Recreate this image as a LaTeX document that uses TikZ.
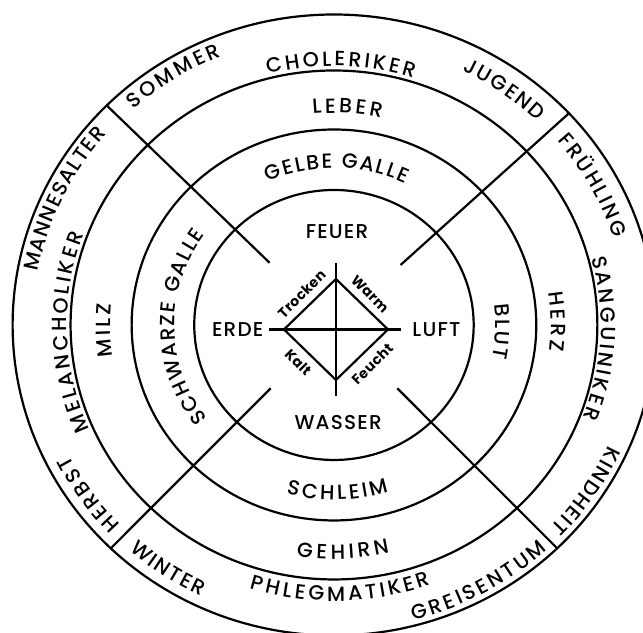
\documentclass[tikz,border=0pt]{standalone}
\usepackage{fontspec}
\setmainfont{Poppins}[UprightFont=* Medium, BoldFont=* Bold]
\usepackage{tikz}
\usetikzlibrary{decorations.text}

\newcommand{\ringfont}{\fontsize{20.5}{20.5}\selectfont}
\newcommand{\elemfont}{\fontsize{20}{20}\selectfont\addfontfeature{LetterSpace=6}}
\newcommand{\qualfont}{\fontsize{14}{14}\selectfont\bfseries\addfontfeature{LetterSpace=3}}

% text set along an arc: {text}{start angle}{end angle}{radius}
\newcommand{\arclabel}[4]{%
  \path[decorate, decoration={text along path, text={|\ringfont|#1}, text align={fit to path}}]
    (#2:#4) arc[start angle=#2, end angle=#3, radius=#4];}

\tikzset{
  ring/.style={line width=2.2pt},
  sepline/.style={line width=2.2pt},
  elem/.style={font=\elemfont, inner sep=2pt},
  qual/.style={font=\qualfont, inner sep=0pt},
}

\begin{document}
\begin{tikzpicture}[x=1.035pt, y=1pt]
    \useasboundingbox (-322.7,-308) rectangle (298.6,325);

    % Rings
    \draw[ring] (0,0) circle[radius=135];
    \draw[ring] (0,0) circle[radius=195.5];
    \draw[ring] (0,0) circle[radius=254.5];
    \draw[ring] (0,0) circle[radius=310.5];

    % Separating lines
    \draw[sepline] (135:88) coordinate (nw-in) -- (135:310.5) coordinate (nw-out);
    \draw[sepline] (43:88) coordinate (ne-in) -- (43:310.5) coordinate (ne-out);
    \draw[sepline] (226:88) coordinate (sw-in) -- (226:310.5) coordinate (sw-out);
    \draw[sepline] (314:88) coordinate (se-in) -- (314:310.5) coordinate (se-out);

    % Elements
    \node[elem] (feuer) at (3,93) {FEUER};
    \node[elem] (erde) at (-93,-5) {ERDE};
    \node[elem] (luft) at (99,-5) {LUFT};
    \node[elem] (wasser) at (4,-98) {WASSER};

    % Cross and diamond
    \coordinate (ct) at (1.9,62);
    \coordinate (cb) at (1.9,-70.6);
    \coordinate (cl) at (-62.8,-4.5);
    \coordinate (cr) at (65.2,-4.5);
    \coordinate (dt) at (1.9,46);
    \coordinate (db) at (1.9,-55);
    \coordinate (dl) at (-48.3,-4.5);
    \coordinate (dr) at (52.2,-4.5);
    \draw[sepline] (ct) -- (cb);
    \draw[sepline] (cl) -- (cr);
    \draw[sepline] (dt) -- (dr) -- (db) -- (dl) -- cycle;

    % Qualities
    \node[qual, rotate=45] (trocken) at (-31.2,31) {Trocken};
    \node[qual, rotate=-45] (warm) at (34.8,31) {Warm};
    \node[qual, rotate=-45] (kalt) at (-34.5,-37.3) {Kalt};
    \node[qual, rotate=45] (feucht) at (37,-39) {Feucht};

    % Outer ring
    \arclabel{SOMMER}{132}{112}{290}
    \arclabel{CHOLERIKER}{104.3}{72.7}{259}
    \arclabel{JUGEND}{64}{46}{283}
    \arclabel{FRÜHLING}{40.6}{17.7}{284}
    \arclabel{SANGUINIKER}{15}{-21}{258}
    \arclabel{KINDHEIT}{-24.5}{-44}{291}
    \arclabel{HERBST}{224}{207}{287}
    \arclabel{MELANCHOLIKER}{203.9}{159.4}{258}
    \arclabel{MANNESALTER}{169.5}{139}{291}
    \arclabel{WINTER}{228.75}{244.75}{300}
    \arclabel{PHLEGMATIKER}{252.8}{289.9}{276}
    \arclabel{GREISENTUM}{284.5}{312.6}{305}

    % Organs
    \arclabel{LEBER}{95.5}{77.5}{212}
    \arclabel{HERZ}{9}{-7}{210}
    \arclabel{MILZ}{188.4}{174.5}{216}
    \arclabel{GEHIRN}{261.1}{283.3}{234}

    % Humours
    \arclabel{GELBE GALLE}{114}{64}{157}
    \arclabel{BLUT}{7.5}{-12}{156}
    \arclabel{SCHWARZE GALLE}{217.5}{144.2}{154}
    \arclabel{SCHLEIM}{254.7}{287.7}{175}
\end{tikzpicture}
\end{document}
